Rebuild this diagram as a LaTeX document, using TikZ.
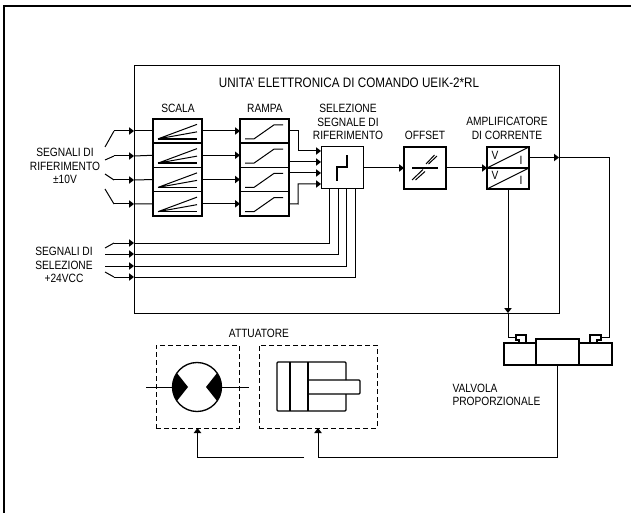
\documentclass[tikz,border=0pt]{standalone}
\usepackage{fontspec}
\setmainfont[FakeStretch=0.85]{Liberation Sans}
\usetikzlibrary{arrows.meta}
\usetikzlibrary{positioning}
\tikzset{
    sigarrow/.style={-{Triangle[length=3.75pt,width=5.5pt]}},
    block/.style={draw,line width=1.1pt,outer sep=0pt,inner sep=0pt,minimum width=36.75pt,minimum height=18.2pt},
    square/.style={draw,outer sep=0pt,inner sep=0pt,minimum width=31.5pt,minimum height=31.5pt},
    half/.style={draw,line width=1pt,outer sep=0pt,inner sep=0pt,minimum width=31.5pt,minimum height=15.75pt},
    caption/.style={font=\fontsize{9}{10}\selectfont,align=center,inner sep=0pt},
    dashbox/.style={draw,dash pattern=on 3.75pt off 2.25pt,outer sep=0pt,inner sep=0pt,minimum height=62.25pt},
    valve/.style={draw,line width=1pt,outer sep=0pt,inner sep=0pt}
}
\begin{document}
\begin{tikzpicture}[x=0.75pt,y=-0.75pt,line width=0.75pt,node distance=0pt]
        \useasboundingbox (0,0) rectangle (631,513);
        \draw[line width=1pt] (4,513) -- (4,6) -- (631,6);
        \node [draw,outer sep=0pt,minimum width=318.75pt,minimum height=185.25pt] (unit) at (346.5,189.5) {};
        \node [block] (scala1) at (177.5,131) {};
        \node [block] (scala2) [below=of scala1] {};
        \node [block] (scala3) [below=of scala2] {};
        \node [block] (scala4) [below=of scala3] {};
        \node [block] (rampa1) [right=28.5pt of scala1] {};
        \node [block] (rampa2) [below=of rampa1] {};
        \node [block] (rampa3) [below=of rampa2] {};
        \node [block] (rampa4) [below=of rampa3] {};
        \node [square] (sel) at (342,168) {};
        \node [square,line width=1.5pt] (offset) [right=30.75pt of sel] {};
        \node [half] (amp1) at (508,157.5) {};
        \node [half] (amp2) [below=of amp1] {};
        \node [dashbox,minimum width=62.25pt] (motbox) at (197.5,386.5) {};
        \node [dashbox,minimum width=88.5pt] (cylbox) at (318,386.5) {};
        \node [draw,circle,line width=1pt,outer sep=0pt,inner sep=0pt,minimum size=36.75pt] (motor) at (197,387) {};
        \node [valve,minimum width=32.25pt,minimum height=19.5pt] (valvecenter) at (557.5,352) {};
        \node [valve,minimum width=24pt,minimum height=16.5pt,anchor=south east] (valveleft) at (valvecenter.south west) {};
        \node [valve,minimum width=24.75pt,minimum height=16.5pt,anchor=south west] (valveright) at (valvecenter.south east) {};
        \node [caption,font=\fontsize{10.3}{12}\selectfont] (title) at (349,83) {UNITA' ELETTRONICA DI COMANDO UEIK-2*RL};
        \node [caption] (scalalabel) at (178,108) {SCALA};
        \node [caption] (rampalabel) at (265,108) {RAMPA};
        \node [caption] (sellabel) at (348,122) {SELEZIONE\\SEGNALE DI\\RIFERIMENTO};
        \node [caption] (offsetlabel) at (425,135) {OFFSET};
        \node [caption] (amplabel) at (507,128.5) {AMPLIFICATORE\\DI CORRENTE};
        \node [caption] (reflabel) at (65,166) {SEGNALI DI\\RIFERIMENTO\\±10V\hspace{10pt}};
        \node [caption] (sigLabel) at (64,265) {SEGNALI DI\\SELEZIONE\\+24VCC\hspace{8pt}};
        \node [caption] (attlabel) at (259,333) {ATTUATORE};
        \node [caption,align=left,anchor=west] (valvelabel) at (452,395) {VALVOLA\\PROPORZIONALE};
        \node [caption] (v1) at (495,155) {V};
        \node [caption] (v2) at (495,175) {V};
        \node [caption] (i1) at (521,160) {I};
        \node [caption] (i2) at (521,180) {I};
        \coordinate (in1) at (105,147);
        \coordinate (in2) at (105,160);
        \coordinate (in3) at (105,174);
        \coordinate (in4) at (105,189);
        \coordinate (kink1) at (114,131);
        \coordinate (kink2) at (114,156);
        \coordinate (kink3) at (114,180);
        \coordinate (kink4) at (114,204);
        \coordinate (in5) at (105,248);
        \coordinate (in6) at (105,254);
        \coordinate (in7) at (105,266);
        \coordinate (in8) at (105,272);
        \coordinate (kink5) at (114,243);
        \coordinate (kink6) at (114,254);
        \coordinate (kink7) at (114,266);
        \coordinate (kink8) at (114,277);
        \coordinate (sel1) at (321,151);
        \coordinate (sel2) at (321,162);
        \coordinate (sel3) at (321,173);
        \coordinate (sel4) at (321,184);
        \coordinate (sig1) at (329,189);
        \coordinate (sig2) at (338,189);
        \coordinate (sig3) at (346,189);
        \coordinate (sig4) at (355,189);
        \coordinate (solleft) at (516,337);
        \coordinate (solright) at (601,337);
        \coordinate (back) at (609,157.5);
        \coordinate (busleft) at (304,457);
        \coordinate (busright) at (318,457);
        \foreach \n in {1,...,8} {
            \coordinate (port\n) at (unit.west |- kink\n);
            \draw (in\n) -- (kink\n);
        }
        \foreach \n in {1,...,4} {
            \draw[sigarrow] (kink\n) -- (port\n);
            \draw (port\n) -- (scala\n.west);
            \draw[sigarrow] (scala\n.east) -- (rampa\n.west);
            \draw[shift={(scala\n.north west)}] (5,20) -- (44,5.5) (5,20) -- (44,13);
            \draw[shift={(scala\n.north west)},line width=1.1pt] (5,20) -- (44,20);
            \draw[shift={(rampa\n.north west)}] (5,20) -- (14,20) -- (34,6) -- (43,6);
        }
        \foreach \n/\m in {5/1,6/2,7/3,8/4} {
            \draw[sigarrow] (kink\n) -- (port\n);
            \draw (port\n) -| (sig\m);
        }
        \draw[sigarrow] (rampa1.east) -- (298,131) |- (sel1);
        \draw[sigarrow] (rampa2.east |- sel2) -- (sel2);
        \draw[sigarrow] (rampa3.east |- sel3) -- (sel3);
        \draw[sigarrow] (rampa4.east) -- (298,204) |- (sel4);
        \draw[sigarrow] (sel.east) -- (offset.west);
        \draw[sigarrow] (offset.east) -- (amp1.south west);
        \draw[line width=1.1pt] (337,181) -- (337,167) -- (347,167) -- (347,155);
        \draw[line width=1.1pt] (412,168) -- (438,168);
        \draw (426,164) -- (434.5,155) (428.5,164) -- (437,156) (412,180) -- (423,169.5) (415.5,180) -- (425,171.5);
        \draw (amp1.south west) -- (amp1.north east) (amp2.south west) -- (amp2.north east);
        \coordinate (outport) at (unit.east |- amp1.east);
        \coordinate (downport) at (amp2.south |- unit.south);
        \draw[sigarrow] (amp1.east) -- (outport);
        \draw (outport) -- (back) |- (solright);
        \draw[sigarrow] (amp2.south) -- (downport);
        \draw (downport) |- (solleft);
        \draw[line width=1pt] (516,343) -- (526,343) -- (526,335) -- (516,335) -- (516,340) -- (519,340) -- (519,343);
        \draw[line width=1pt] (601,343) -- (590,343) -- (590,335) -- (601,335) -- (601,340) -- (597,340) -- (597,343);
        \begin{scope}
            \clip (motor.center) circle [radius=24.5];
            \fill (165,358) -- (188,387) -- (165,416) -- cycle;
            \fill (229,358) -- (206,387) -- (229,416) -- cycle;
        \end{scope}
        \draw (146,387) -- (motor.west);
        \draw (motor.east) -- (249,387);
        \draw[line width=1pt,rounded corners=0.75pt] (346,380) -- (346,362) -- (277,362) -- (277,411) -- (346,411) -- (346,394);
        \draw[line width=1pt] (290,362) -- (290,411);
        \draw[line width=1pt] (308,362) -- (308,411);
        \draw[line width=1pt,rounded corners=0.75pt] (308,380) -- (360,380) -- (360,394) -- (308,394);
        \draw[sigarrow] (valvecenter.south) |- (busright) -- (cylbox.south);
        \draw[sigarrow] (busleft) -| (motbox.south);
\end{tikzpicture}
\end{document}
